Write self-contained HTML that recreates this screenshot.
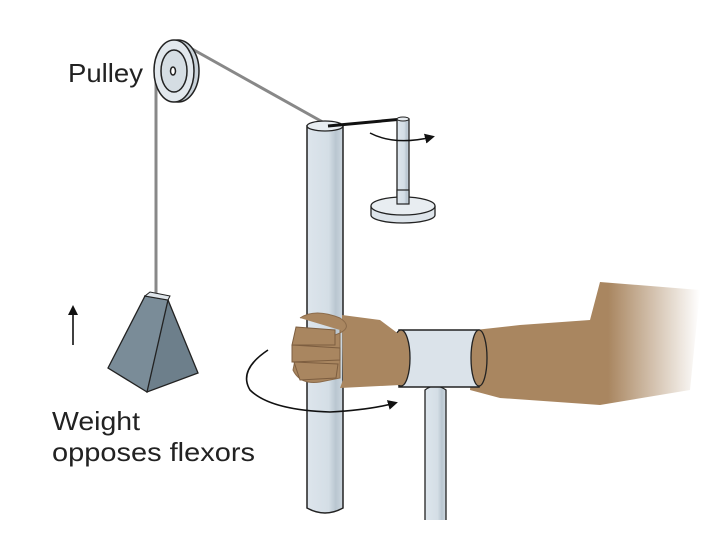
<!DOCTYPE html>
<html><head><style>
body{margin:0;background:#fff;}
svg{display:block}
text{font-family:"Liberation Sans",sans-serif;fill:#222;font-size:26px}
</style></head><body>
<svg width="702" height="557" viewBox="0 0 702 557">
<defs>
<linearGradient id="pole" x1="0" x2="1"><stop offset="0" stop-color="#dde5ec"/><stop offset="0.6" stop-color="#d4dee6"/><stop offset="0.8" stop-color="#b9c6d0"/><stop offset="1" stop-color="#cdd7df"/></linearGradient>
<linearGradient id="fade" x1="0" x2="1"><stop offset="0" stop-color="#a98660"/><stop offset="0.6" stop-color="#a98660"/><stop offset="1" stop-color="#a98660" stop-opacity="0"/></linearGradient>
<marker id="ah" markerWidth="10" markerHeight="10" refX="7" refY="5" orient="auto" markerUnits="userSpaceOnUse"><path d="M0,0 L10,5 L0,10 Z" fill="#111"/></marker>
</defs>
<line x1="156" y1="80" x2="156" y2="298" stroke="#888" stroke-width="3"/>
<line x1="185" y1="45" x2="328" y2="125" stroke="#888" stroke-width="3"/>
<ellipse cx="178" cy="71" rx="21" ry="31" fill="#c9d2d9" stroke="#222" stroke-width="1.5"/>
<ellipse cx="174" cy="71" rx="20" ry="31" fill="#e2e8ed" stroke="#222" stroke-width="1.5"/>
<ellipse cx="174" cy="71" rx="13" ry="21" fill="#d5dde3" stroke="#222" stroke-width="1.5"/>
<ellipse cx="173" cy="71" rx="2.5" ry="4" fill="#fff" stroke="#222" stroke-width="1.5"/>
<!-- weight -->
<polygon points="145,296 168,300 198,373 147,392" fill="#6d7f8b" stroke="#222" stroke-width="1.3"/>
<polygon points="145,296 168,300 147,392 108,368" fill="#7a8c98" stroke="#222" stroke-width="1.3"/>
<polygon points="145,296 168,300 170,296 150,292" fill="#dfe5ea" stroke="#222"/>
<!-- pole -->
<path d="M307,126 L307,508 Q325,518 343,508 L343,126 Z" fill="url(#pole)" stroke="#222" stroke-width="1.5"/>
<ellipse cx="325" cy="126" rx="18" ry="5" fill="#e8edf1" stroke="#222" stroke-width="1.3"/>
<line x1="328" y1="126" x2="403" y2="119" stroke="#111" stroke-width="3"/>
<rect x="397" y="119" width="12" height="80" fill="url(#pole)" stroke="#222" stroke-width="1.3"/>
<ellipse cx="403" cy="119" rx="6" ry="2" fill="#e8edf1" stroke="#222"/>
<path d="M371,206 L371,215 A32,8 0 0 0 435,215 L435,206" fill="#dde4ea" stroke="#222" stroke-width="1.3"/>
<ellipse cx="403" cy="206" rx="32" ry="9" fill="#e8edf1" stroke="#222" stroke-width="1.3"/>
<rect x="397" y="190" width="12" height="14" fill="url(#pole)" stroke="#222" stroke-width="1.2"/>
<path d="M370,133 Q395,146 432,137" fill="none" stroke="#111" stroke-width="1.5" marker-end="url(#ah)"/>
<path d="M425,520 L425,390 Q435,382 446,390 L446,520" fill="url(#pole)" stroke="#222" stroke-width="1.3"/>
<path d="M475,330 L520,325 L590,320 L600,282 L700,290 L690,390 L600,405 L500,398 L470,390 Z" fill="url(#fade)"/>
<rect x="399" y="330" width="80" height="57" fill="#dbe3ea" stroke="#222" stroke-width="1.5"/>
<ellipse cx="479" cy="358" rx="8" ry="28" fill="#a98660" stroke="#222" stroke-width="1.3"/>
<ellipse cx="401" cy="358" rx="9" ry="28" fill="#a98660" stroke="#222" stroke-width="1.3"/>
<path d="M342,315 L380,320 L400,335 L400,385 L340,388 L343,380 Z" fill="#a98660"/>
<path d="M300,318 Q315,308 340,318 Q355,328 335,335 L320,332 Q305,330 298,345 L293,370 Q300,385 320,382 L340,378 L340,330" fill="#a98660" stroke="#8a6a4a"/>
<path d="M296,327 L335,330 L335,345 L292,345 Z M292,345 L340,348 L340,360 L292,362 Z M294,362 L338,364 L336,378 L300,380 Z" fill="#a98660" stroke="#7d5e40" stroke-width="1"/>
<path d="M268,350 Q238,370 250,390 Q270,410 330,412 Q370,410 395,403" fill="none" stroke="#111" stroke-width="1.6" marker-end="url(#ah)"/>
<line x1="73" y1="345" x2="73" y2="308" stroke="#111" stroke-width="1.6" marker-end="url(#ah)"/>
<text x="68" y="82" textLength="75" lengthAdjust="spacingAndGlyphs">Pulley</text>
<text x="52" y="430" textLength="88" lengthAdjust="spacingAndGlyphs">Weight</text>
<text x="52" y="461" textLength="203" lengthAdjust="spacingAndGlyphs">opposes flexors</text>
</svg>
</body></html>
